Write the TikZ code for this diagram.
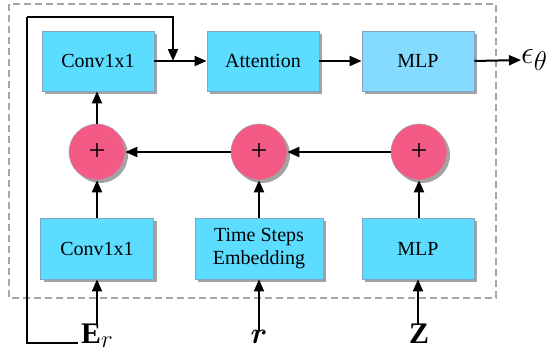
\documentclass[tikz,border=0pt]{standalone}
\usepackage{amsmath,bm}
\usepackage{fontspec}
\setmainfont{Liberation Serif}
\usetikzlibrary{arrows.meta,shadows,calc}
\definecolor{boxc}{HTML}{5CDCFF}
\definecolor{boxl}{HTML}{84DAFF}
\definecolor{boxd}{HTML}{7FA6C4}
\definecolor{pinkc}{HTML}{F35A86}
\begin{document}
\begin{tikzpicture}[x=1pt,y=-1pt,
  blk/.style={draw=boxd,line width=0.8pt,fill=boxc,minimum width=112pt,minimum height=60pt,inner sep=0pt,align=center,
    font=\fontsize{20}{23}\selectfont,
    drop shadow={shadow xshift=3pt,shadow yshift=-3pt,fill=black!45,opacity=0.8}},
  addc/.style={circle,draw=black!35,line width=0.6pt,fill=pinkc,minimum size=56pt,inner sep=0pt,
    font=\fontsize{30}{30}\selectfont,
    drop shadow={shadow xshift=3pt,shadow yshift=-3pt,fill=black!45,opacity=0.8}},
  arr/.style={-{Triangle[length=12pt,width=10pt]},line width=2pt},
  lbl/.style={inner sep=1pt,font=\Huge}]
\useasboundingbox (0,0) rectangle (557,354);
\draw[dashed,draw=black!35,line width=1.3pt,dash pattern=on 7pt off 4pt] (9,4) rectangle (496,298);
\node[blk] (c1) at (98,61) {Conv1x1};
\node[blk] (att) at (263,61) {Attention};
\node[blk,fill=boxl] (mlp1) at (418,61) {MLP};
\node[addc] (p1) at (97,152) {+};
\node[addc] (p2) at (259,152) {+};
\node[addc] (p3) at (419,152) {+};
\node[blk,minimum width=113pt,minimum height=61pt] (c2) at (97,248.5) {Conv1x1};
\node[blk,minimum width=128pt,minimum height=61pt] (ts) at (259,248.5) {Time Steps\\Embedding};
\node[blk,minimum height=61pt] (mlp2) at (418,248.5) {MLP};
\node[lbl,anchor=base west,inner sep=0pt] (Er) at (81,343) {\scalebox{1.2}{$\mathbf{E}_r$}};
\node[lbl,anchor=base] (r) at (259,343) {\scalebox{1.2}{$\bm{r}$}};
\node[lbl,anchor=base] (Z) at (419,343) {\scalebox{1.2}{$\mathbf{Z}$}};
\node[lbl,anchor=west,inner sep=0pt] (eps) at (521,60) {\scalebox{1.3}{$\epsilon_\theta$}};
\coordinate (fb1) at (27,17);
\coordinate (j) at (173,61);
\draw[arr] (c1.east) -- (att.west);
\draw[arr] (att.east) -- (mlp1.west);
\draw[arr] (mlp1.east) -- (eps.west);
\draw[arr] (p3.west) -- (p2.east);
\draw[arr] (p2.west) -- (p1.east);
\draw[arr] (p1.north) -- (c1.south -| p1.north);
\draw[arr] (c2.north) -- (p1.south);
\draw[arr] (ts.north) -- (p2.south);
\draw[arr] (mlp2.north -| p3.south) -- (p3.south);
\draw[arr] ([yshift=-2pt]Er.north -| c2.south) -- (c2.south);
\draw[arr] ([yshift=-2pt]r.north) -- (ts.south);
\draw[arr] ([yshift=-2pt]Z.north -| mlp2.south) -- (mlp2.south);
\draw[line width=2pt] ([xshift=-3pt]Er.base west) -| (fb1);
\draw[arr] (fb1) -| (j);
\end{tikzpicture}
\end{document}
